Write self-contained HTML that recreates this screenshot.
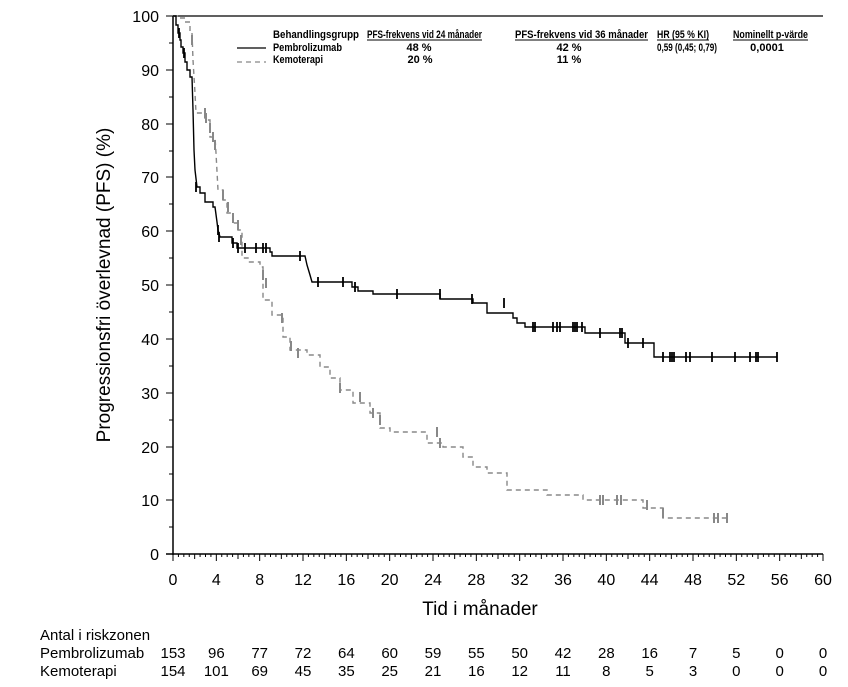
<!DOCTYPE html>
<html><head><meta charset="utf-8"><style>
body{margin:0;background:#fff;}
svg{display:block;font-family:"Liberation Sans",Arial,sans-serif;}
</style></head><body>
<svg width="848" height="687" viewBox="0 0 848 687" xmlns="http://www.w3.org/2000/svg">
<line x1="173" y1="16" x2="173" y2="555" stroke="#000" stroke-width="1.5"/>
<line x1="173" y1="16" x2="823" y2="16" stroke="#000" stroke-width="1.2"/>
<line x1="166" y1="554" x2="823" y2="554" stroke="#000" stroke-width="1.5"/>
<g stroke="#000" stroke-width="1">
<line x1="166" y1="16" x2="173" y2="16"/><line x1="169" y1="43" x2="173" y2="43"/>
<line x1="166" y1="70" x2="173" y2="70"/><line x1="169" y1="97" x2="173" y2="97"/>
<line x1="166" y1="124" x2="173" y2="124"/><line x1="169" y1="151" x2="173" y2="151"/>
<line x1="166" y1="177" x2="173" y2="177"/><line x1="169" y1="204" x2="173" y2="204"/>
<line x1="166" y1="231" x2="173" y2="231"/><line x1="169" y1="258" x2="173" y2="258"/>
<line x1="166" y1="285" x2="173" y2="285"/><line x1="169" y1="312" x2="173" y2="312"/>
<line x1="166" y1="339" x2="173" y2="339"/><line x1="169" y1="366" x2="173" y2="366"/>
<line x1="166" y1="393" x2="173" y2="393"/><line x1="169" y1="420" x2="173" y2="420"/>
<line x1="166" y1="447" x2="173" y2="447"/><line x1="169" y1="474" x2="173" y2="474"/>
<line x1="166" y1="500" x2="173" y2="500"/><line x1="169" y1="527" x2="173" y2="527"/>
</g>
<g id="xt"></g>
<g font-size="16" text-anchor="end" fill="#000">
<text x="159" y="22">100</text><text x="159" y="76">90</text><text x="159" y="130">80</text>
<text x="159" y="183">70</text><text x="159" y="237">60</text><text x="159" y="291">50</text>
<text x="159" y="345">40</text><text x="159" y="399">30</text><text x="159" y="453">20</text>
<text x="159" y="506">10</text><text x="159" y="560">0</text>
</g>
<g font-size="16" text-anchor="middle" id="xl"></g>
<text x="480" y="615" font-size="19" text-anchor="middle">Tid i månader</text>
<text transform="translate(110,285) rotate(-90)" font-size="19" text-anchor="middle">Progressionsfri överlevnad (PFS) (%)</text>
<g font-size="15">
<text x="40" y="640">Antal i riskzonen</text>
<text x="40" y="658">Pembrolizumab</text>
<text x="40" y="676">Kemoterapi</text>
</g>
<g font-size="15" text-anchor="middle" id="risk"></g>
<g font-size="11" font-weight="bold">
<text x="273" y="38" textLength="86" lengthAdjust="spacingAndGlyphs">Behandlingsgrupp</text>
<text x="273" y="51" textLength="69" lengthAdjust="spacingAndGlyphs">Pembrolizumab</text>
<text x="273" y="63" textLength="50" lengthAdjust="spacingAndGlyphs">Kemoterapi</text>
<text x="367" y="38" textLength="115" lengthAdjust="spacingAndGlyphs">PFS-frekvens vid 24 månader</text>
<text x="515" y="38" textLength="133" lengthAdjust="spacingAndGlyphs">PFS-frekvens vid 36 månader</text>
<text x="657" y="38" textLength="52" lengthAdjust="spacingAndGlyphs">HR (95 % KI)</text>
<text x="733" y="38" textLength="75" lengthAdjust="spacingAndGlyphs">Nominellt p-värde</text>
<text x="419" y="51" text-anchor="middle">48 %</text>
<text x="420" y="63" text-anchor="middle">20 %</text>
<text x="569" y="51" text-anchor="middle">42 %</text>
<text x="569" y="63" text-anchor="middle">11 %</text>
<text x="657" y="51" textLength="60" lengthAdjust="spacingAndGlyphs">0,59 (0,45; 0,79)</text>
<text x="767" y="51" text-anchor="middle">0,0001</text>
</g>
<g stroke="#000" stroke-width="1">
<line x1="367" y1="40" x2="482" y2="40"/><line x1="515" y1="40" x2="648" y2="40"/>
<line x1="657" y1="40" x2="709" y2="40"/><line x1="733" y1="40" x2="808" y2="40"/>
</g>
<line x1="237" y1="48" x2="266" y2="48" stroke="#000" stroke-width="1.3"/>
<line x1="237" y1="62" x2="266" y2="62" stroke="#888" stroke-width="1.3" stroke-dasharray="5,4"/>
<polyline fill="none" stroke="#888" stroke-width="1.4" stroke-dasharray="5,4" points="173,16 180,16 180,18 185,18 185,22 190,22 190,33 192,33 193,60 195,93 196,113 205,113 205,120 210,120 210,137 215,137 216,153 218,190 223,190 223,200 227,200 227,213 233,213 233,223 238,223 238,230 242,230 242,258 248,258 248,262 260,262 260,267 263,267 263,300 272,300 272,315 283,315 283,337 290,337 290,350 307,350 307,355 320,355 320,367 330,367 330,378 340,378 340,390 353,390 353,403 370,403 370,413 380,413 380,428 390,428 390,432 427,432 427,443 443,443 443,447 463,447 463,457 473,457 473,467 487,467 487,473 507,473 507,478 507,478 507,490 547,490 547,495 583,495 583,500 643,500 643,508 663,508 663,518 727,518"/>
<g stroke="#888" stroke-width="2" id="gc"></g>
<polyline fill="none" stroke="#000" stroke-width="1.4" points="173,16 176,16 176,25 178,25 178,33 180,33 180,40 181,40 181,47 183,47 183,53 185,53 185,62 187,62 187,70 190,70 190,77 192,77 193,110 194,150 195,170 197,187 200,187 200,193 205,193 205,202 213,202 213,207 215,207 217,222 218,230 220,237 232,237 232,243 237,243 237,248 270,248 270,252 272,252 272,256 305,256 307,265 310,275 312,282 352,282 352,287 358,287 358,291 373,291 373,294 440,294 440,299 473,299 473,303 487,303 487,313 513,313 513,318 517,318 517,323 525,323 525,327 585,327 585,333 625,333 625,343 654,343 654,357 777,357"/>
<g stroke="#000" stroke-width="1.8" id="bc"></g>
</svg>
<script>
var ns="http://www.w3.org/2000/svg";
function el(p,t,a,txt){var e=document.createElementNS(ns,t);for(var k in a)e.setAttribute(k,a[k]);if(txt!==undefined)e.textContent=txt;document.getElementById(p).appendChild(e);}
var sx=650/60;
for(var m=0;m<=120;m++){var x=173+m*0.5*sx;var big=(m%8==0),mid=(m%4==0);el("xt","line",{x1:x,x2:x,y1:554,y2:554+(big?7:(mid?5:3)),stroke:"#000","stroke-width":1});}
var pr=[153,96,77,72,64,60,59,55,50,42,28,16,7,5,0,0],kr=[154,101,69,45,35,25,21,16,12,11,8,5,3,0,0,0];
for(var i=0;i<=15;i++){var x=173+i*4*sx;el("xl","text",{x:x,y:585},String(i*4));el("risk","text",{x:x,y:658},pr[i]);el("risk","text",{x:x,y:676},kr[i]);}
var bc=[[179,33],[184,53],[196,187],[218,230],[219,237],[233,243],[238,248],[245,248],[256,248],[263,248],[266,248],[300,256],[318,282],[343,282],[355,287],[397,294],[440,294],[472,299],[504,303],[533,327],[535,327],[553,327],[557,327],[560,327],[573,327],[575,327],[577,327],[582,327],[600,333],[620,333],[622,333],[628,343],[643,343],[663,357],[670,357],[672,357],[674,357],[686,357],[690,357],[712,357],[735,357],[750,357],[756,357],[758,357],[777,357]];
bc.forEach(function(p){el("bc","line",{x1:p[0],x2:p[0],y1:p[1]-5,y2:p[1]+5});});
var gc=[[192,40],[205,113],[206,118],[210,128],[213,137],[215,145],[223,195],[228,207],[233,218],[238,225],[241,240],[263,275],[266,283],[282,318],[291,346],[298,353],[340,388],[360,397],[373,413],[380,420],[437,432],[440,443],[600,500],[603,500],[617,500],[621,500],[647,505],[663,513],[714,518],[718,518],[727,518]];
gc.forEach(function(p){el("gc","line",{x1:p[0],x2:p[0],y1:p[1]-5,y2:p[1]+5});});
</script>
</body></html>
